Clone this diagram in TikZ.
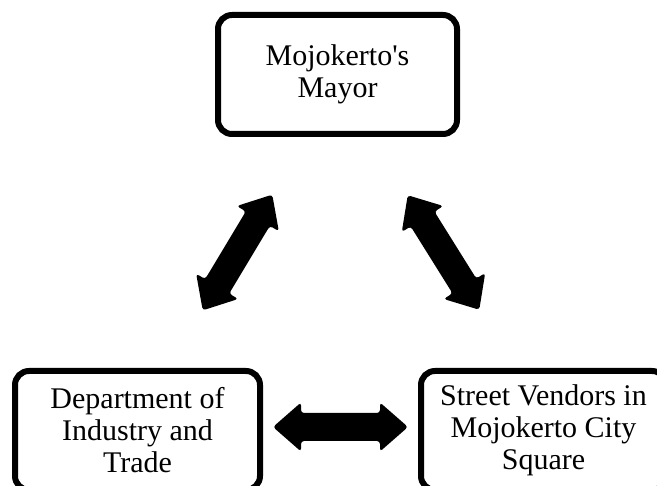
\documentclass[tikz,border=0pt]{standalone}
\usepackage{fontspec}
\setmainfont{Liberation Serif}
\usetikzlibrary{calc}
\tikzset{
  box/.style={draw=black, line width=6pt, rounded corners=14pt, fill=white,
    minimum width=239pt, minimum height=119pt, inner sep=0pt, align=center,
    font=\fontsize{30}{32}\selectfont},
  widebox/.style={box, minimum width=245pt},
  blockarrow/.style={fill=black, rounded corners=3pt},
}
\newcommand{\blockarrowpath}{%
  (-67.5,0) -- (-39.5,24.5) -- (-39.5,14) -- (39.5,14) -- (39.5,24.5) --
  (67.5,0) -- (39.5,-24.5) -- (39.5,-14) -- (-39.5,-14) -- (-39.5,-24.5) -- cycle}
\begin{document}
\begin{tikzpicture}[x=1pt,y=-1pt]
\useasboundingbox (0,0) rectangle (657,486);
\clip (0,0) rectangle (657,486);
\node[box] (mayor) at (337.5,74.5) {Mojokerto\textquotesingle s\\Mayor};
\node[widebox] (dept) at (137.5,430.5) {Department of\\Industry and\\Trade};
\node[widebox] (vendors) at (543.5,430.5) {Street Vendors in\\Mojokerto City\\Square};
\coordinate (a1) at ($(mayor)!0.5!(dept)$);
\coordinate (a2) at ($(mayor)!0.5!(vendors)+(3,0)$);
\coordinate (a3) at ($(dept)!0.5!(vendors)+(0,-3.5)$);
\begin{scope}[shift={(a1)}, rotate=59]
  \fill[blockarrow] \blockarrowpath;
\end{scope}
\begin{scope}[shift={(a2)}, rotate=-58]
  \fill[blockarrow] \blockarrowpath;
\end{scope}
\begin{scope}[shift={(a3)}]
  \fill[blockarrow] \blockarrowpath;
\end{scope}
\end{tikzpicture}
\end{document}
